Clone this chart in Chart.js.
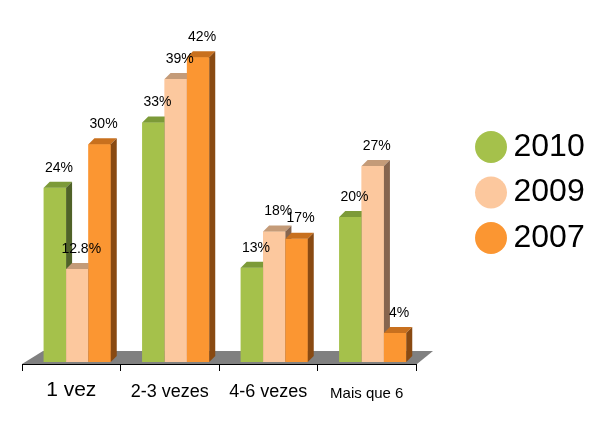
<!DOCTYPE html>
<html><head><meta charset="utf-8">
<script src="https://cdn.jsdelivr.net/npm/chart.js@4"></script>
<style>html,body{margin:0;padding:0;background:#fff}#wrap{width:609px;height:422px}</style>
</head><body><div id="wrap"><canvas id="c" width="609" height="422"></canvas></div>
<script>
const categories = ['1 vez', '2-3 vezes', '4-6 vezes', 'Mais que 6'];
const seriesNames = ['2010', '2009', '2007'];
const values2010 = [24, 33, 13, 20];
const values2009 = [12.8, 39, 18, 27];
const values2007 = [30, 42, 17, 4];
const tickFontSizes = [21, 18, 18, 15];

const FONT = "'Liberation Sans', Arial, sans-serif";
const shades = [
  {front: '#A5C14B', top: '#7C9A38', side: '#4F6228'},
  {front: '#FCC89E', top: '#C49B78', side: '#86654E'},
  {front: '#FB9632', top: '#C8701E', side: '#894A12'}
];
const DX = 6, DY = 6, SHIFT = 6;

const bar3d = {
  id: 'bar3d',
  beforeDatasetsDraw(chart) {
    const {ctx, chartArea: {left, right, bottom}} = chart;
    ctx.save();
    ctx.fillStyle = '#808080';
    ctx.beginPath();
    ctx.moveTo(left, bottom);
    ctx.lineTo(left + 21, bottom - 13);
    ctx.lineTo(right + 17, bottom - 13);
    ctx.lineTo(right + 1, bottom);
    ctx.closePath();
    ctx.fill();
    ctx.restore();
    ctx.save();
    ctx.translate(SHIFT, 0);
  },
  afterDatasetsDraw(chart) {
    const ctx = chart.ctx;
    chart.data.datasets.forEach((ds, i) => {
      const meta = chart.getDatasetMeta(i);
      const c = shades[i];
      meta.data.forEach(el => {
        el.draw(ctx);
        const {x, y, base, width} = el.getProps(['x', 'y', 'base', 'width'], true);
        const x0 = x - width / 2, x1 = x + width / 2;
        ctx.fillStyle = c.top;
        ctx.beginPath();
        ctx.moveTo(x0, y); ctx.lineTo(x0 + DX, y - DY); ctx.lineTo(x1 + DX, y - DY); ctx.lineTo(x1, y);
        ctx.closePath(); ctx.fill();
        ctx.fillStyle = c.side;
        ctx.beginPath();
        ctx.moveTo(x1, y); ctx.lineTo(x1 + DX, y - DY); ctx.lineTo(x1 + DX, base - DY); ctx.lineTo(x1, base);
        ctx.closePath(); ctx.fill();
      });
    });
    ctx.fillStyle = '#000';
    ctx.font = '14px ' + FONT;
    ctx.textAlign = 'center';
    ctx.textBaseline = 'middle';
    chart.data.datasets.forEach((ds, i) => {
      chart.getDatasetMeta(i).data.forEach((el, j) => {
        const {x, y} = el.getProps(['x', 'y'], true);
        ctx.fillText(ds.data[j] + '%', x + 4, y - 20);
      });
    });
    ctx.restore();
  }
};

new Chart(document.getElementById('c'), {
  type: 'bar',
  data: {
    labels: categories,
    datasets: [
      {label: seriesNames[0], data: values2010, backgroundColor: shades[0].front, borderWidth: 0},
      {label: seriesNames[1], data: values2009, backgroundColor: shades[1].front, borderWidth: 0},
      {label: seriesNames[2], data: values2007, backgroundColor: shades[2].front, borderWidth: 0}
    ]
  },
  options: {
    responsive: false,
    animation: false,
    events: [],
    categoryPercentage: 0.68,
    barPercentage: 1,
    layout: {padding: {left: 22, right: 14.3, top: 21, bottom: 0}},
    scales: {
      x: {
        offset: true,
        grid: {display: true, drawOnChartArea: false, drawTicks: true, tickLength: 7, color: '#000', lineWidth: 1, offset: true},
        border: {display: true, color: '#000', width: 1},
        ticks: {
          color: '#000', padding: 19, crossAlign: 'center', maxRotation: 0, autoSkip: false,
          font: (c) => ({family: FONT, size: tickFontSizes[c.index] || 18})
        },
        afterFit(s) { s.height = 58; }
      },
      y: {
        position: 'right',
        min: -0.28,
        max: 47.0,
        display: true,
        grid: {display: false},
        border: {display: false},
        ticks: {display: false},
        afterFit(s) { s.width = 55; }
      }
    },
    plugins: {
      tooltip: {enabled: false},
      legend: {
        position: 'right',
        align: 'center',
        fullSize: false,
        labels: {
          usePointStyle: true,
          pointStyle: 'circle',
          boxWidth: 13,
          boxHeight: 22.6,
          padding: 13.5,
          color: '#000',
          font: {family: FONT, size: 32}
        }
      }
    }
  },
  plugins: [bar3d]
});
</script>
</body></html>
